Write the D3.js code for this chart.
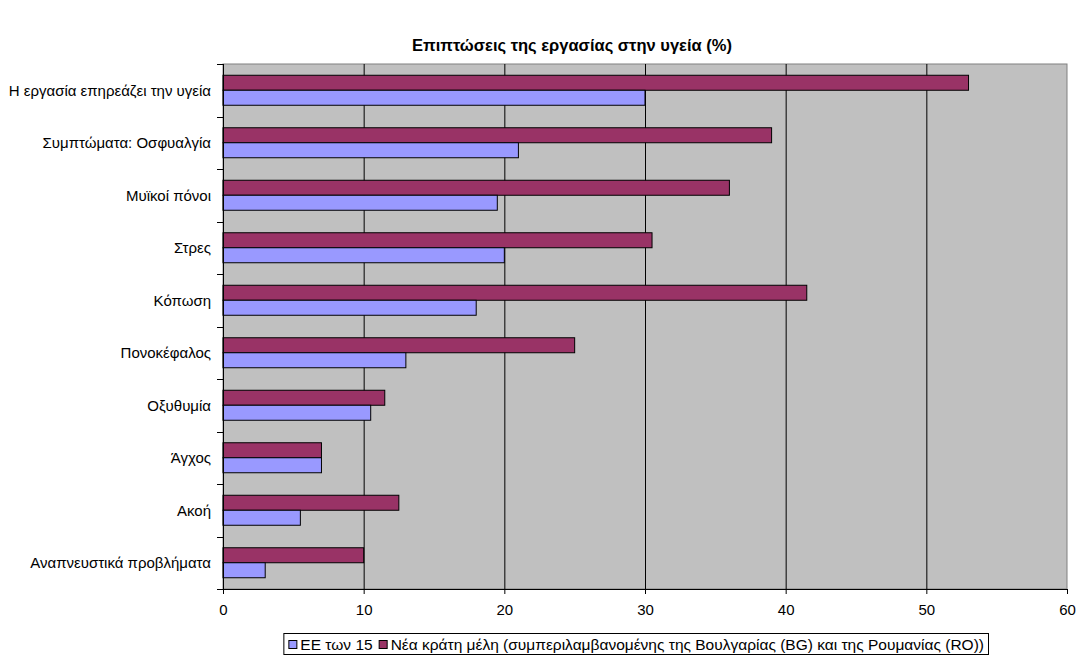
<!DOCTYPE html>
<html>
<head>
<meta charset="utf-8">
<script src="https://cdn.jsdelivr.net/npm/d3@7"></script>
<style>
  html, body { margin: 0; padding: 0; background: #fff; }
  svg { display: block; font-family: Arial, "Liberation Sans", sans-serif; }
</style>
</head>
<body>
<svg id="chart" width="1077" height="657"></svg>
<script>
// Categories (top to bottom)
const categories = [
  "Η εργασία επηρεάζει την υγεία",
  "Συμπτώματα: Οσφυαλγία",
  "Μυϊκοί πόνοι",
  "Στρες",
  "Κόπωση",
  "Πονοκέφαλος",
  "Οξυθυμία",
  "Άγχος",
  "Ακοή",
  "Αναπνευστικά προβλήματα"
];
// Series values (%)
const eu15 = [30, 21, 19.5, 20, 18, 13, 10.5, 7, 5.5, 3];
const newMembers = [53, 39, 36, 30.5, 41.5, 25, 11.5, 7, 12.5, 10];
const seriesNames = [
  "ΕΕ των 15",
  "Νέα κράτη μέλη (συμπεριλαμβανομένης της Βουλγαρίας (BG) και της Ρουμανίας (RO))"
];
const xTicks = [0, 10, 20, 30, 40, 50, 60];
const title = "Επιπτώσεις της εργασίας στην υγεία (%)";

const colors = { eu15: "#9999FF", newMembers: "#993366" };
const labelSize = 15;

const svg = d3.select("#chart");
const plotLeft = 223, plotRight = 1067, plotTop = 64, plotBottom = 589;

const x = d3.scaleLinear().domain([0, 60]).range([plotLeft, plotRight]);
const y = d3.scaleBand().domain(categories).range([plotTop, plotBottom])
  .paddingInner(22.5 / 52.5).paddingOuter(11.25 / 52.5);
const sub = d3.scaleBand().domain(["newMembers", "eu15"]).range([0, y.bandwidth()]);

// Title
svg.append("text")
  .attr("x", 572).attr("y", 51)
  .attr("text-anchor", "middle")
  .attr("font-size", 16.5).attr("font-weight", "bold")
  .text(title);

// Plot background
svg.append("rect")
  .attr("x", plotLeft).attr("y", plotTop)
  .attr("width", plotRight - plotLeft).attr("height", plotBottom - plotTop)
  .attr("fill", "#C0C0C0")
  .attr("stroke", "#808080").attr("stroke-width", 1);

// Vertical gridlines
svg.append("g").selectAll("line")
  .data(xTicks.slice(1, -1))
  .join("line")
  .attr("x1", d => x(d) + 0.5).attr("x2", d => x(d) + 0.5)
  .attr("y1", plotTop).attr("y2", plotBottom)
  .attr("stroke", "#000").attr("stroke-width", 1);

// Bars
const rows = categories.map((c, i) => ({ c, eu15: eu15[i], newMembers: newMembers[i] }));
const g = svg.append("g");
["newMembers", "eu15"].forEach(key => {
  g.selectAll("rect." + key)
    .data(rows)
    .join("rect")
    .attr("class", key)
    .attr("x", x(0))
    .attr("y", d => y(d.c) + sub(key))
    .attr("width", d => x(d[key]) - x(0))
    .attr("height", sub.bandwidth())
    .attr("fill", colors[key])
    .attr("stroke", "#000").attr("stroke-width", 1);
});

// X axis
const xAxis = svg.append("g")
  .attr("transform", `translate(0,${plotBottom})`)
  .call(d3.axisBottom(x).tickValues(xTicks).tickSize(5).tickPadding(10).tickFormat(d3.format("d")));
xAxis.select(".domain").attr("stroke", "#000");
xAxis.selectAll("text").attr("font-size", labelSize).attr("fill", "#000")
  .attr("font-family", "Arial, 'Liberation Sans', sans-serif");

// Y axis: line with ticks at category boundaries
const yAxis = svg.append("g");
yAxis.append("line")
  .attr("x1", plotLeft + 0.5).attr("x2", plotLeft + 0.5)
  .attr("y1", plotTop).attr("y2", plotBottom + 5)
  .attr("stroke", "#000");
const boundaries = categories.map(c => y(c) - y.step() * y.paddingInner() / 2);
boundaries.push(plotBottom);
yAxis.selectAll("line.tick")
  .data(boundaries)
  .join("line")
  .attr("class", "tick")
  .attr("x1", plotLeft - 6).attr("x2", plotLeft)
  .attr("y1", d => Math.round(d) + 0.5).attr("y2", d => Math.round(d) + 0.5)
  .attr("stroke", "#000");
yAxis.selectAll("text")
  .data(categories)
  .join("text")
  .attr("x", plotLeft - 12)
  .attr("y", d => y(d) + y.bandwidth() / 2)
  .attr("dy", "0.35em")
  .attr("text-anchor", "end")
  .attr("font-size", labelSize)
  .text(d => d);

// Legend: entries laid out left to right, box right edge at legendRight
const legend = svg.append("g");
const legendRight = 988, ly = 633, lh = 21;
const lbox = legend.append("rect")
  .attr("y", ly + 0.5).attr("height", lh)
  .attr("fill", "#fff").attr("stroke", "#000");
const items = legend.append("g");
let cx = 5;
[["eu15", seriesNames[0]], ["newMembers", seriesNames[1]]].forEach(([key, name]) => {
  items.append("rect")
    .attr("x", cx + 0.5).attr("y", ly + 7.5)
    .attr("width", 8).attr("height", 8)
    .attr("fill", colors[key]).attr("stroke", "#000");
  const t = items.append("text")
    .attr("x", cx + 12).attr("y", ly + 11.5)
    .attr("dy", "0.35em")
    .attr("font-size", 15.5)
    .text(name);
  cx += 12 + t.node().getComputedTextLength() + 6;
});
const boxW = cx - 2;
const lx = legendRight - boxW;
lbox.attr("x", lx + 0.5).attr("width", boxW);
items.attr("transform", `translate(${lx},0)`);
</script>
</body>
</html>
